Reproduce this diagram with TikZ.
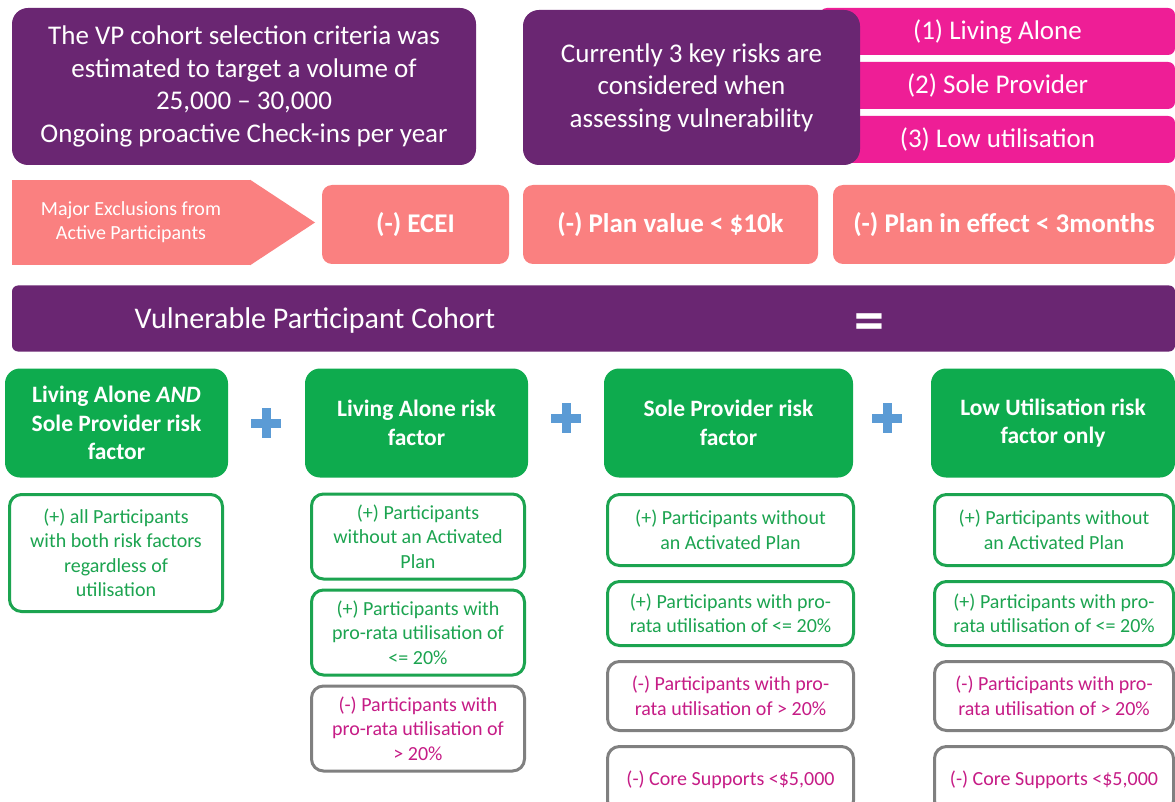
\documentclass[tikz,border=0pt]{standalone}
\usepackage{fontspec}
\setmainfont{Carlito}
\usetikzlibrary{positioning}
\definecolor{vppurple}{RGB}{106,38,114}
\definecolor{riskpink}{RGB}{238,30,150}
\definecolor{exclred}{RGB}{250,128,128}
\definecolor{headgreen}{RGB}{14,171,78}
\definecolor{linegreen}{RGB}{28,164,80}
\definecolor{plusblue}{RGB}{91,155,213}
\definecolor{minusgrey}{RGB}{128,128,128}
\definecolor{minustext}{RGB}{198,28,134}
\tikzset{purple node/.style={fill=vppurple,text=white,rounded corners=16pt,align=center,inner sep=0pt,font=\fontsize{27}{32.5}\selectfont},
  risk node/.style={fill=riskpink,text=white,rounded corners=7pt,minimum width=355pt,minimum height=47pt,inner sep=0pt,outer sep=0pt,font=\fontsize{27}{30}\selectfont},
  excl node/.style={fill=exclred,text=white,rounded corners=10pt,minimum height=79pt,inner sep=0pt,font=\bfseries\fontsize{27}{30}\selectfont},
  head node/.style={fill=headgreen,text=white,rounded corners=15pt,minimum height=109pt,align=center,inner sep=0pt,font=\bfseries\fontsize{23.5}{28.5}\selectfont},
  plus node/.style={minimum size=29pt,inner sep=0pt},
  plus bar/.style={draw=plusblue,line width=9pt},
  in node/.style={draw=linegreen,line width=3pt,fill=white,text=linegreen,rounded corners=12pt,align=center,inner sep=0pt,outer sep=0pt,font=\fontsize{20}{24.5}\selectfont},
  out node/.style={in node,draw=minusgrey,text=minustext},
}

\begin{document}
\begin{tikzpicture}[x=1pt,y=-1pt]
    \useasboundingbox[fill=white] (0,0) rectangle (1175,802);
    %% risks
    \node[risk node] (r1) at (997.5,31.5) {(1) Living Alone};
    \node[risk node] (r2) [below=7pt of r1] {(2) Sole Provider};
    \node[risk node] (r3) [below=7pt of r2] {(3) Low utilisation};
    \node[purple node,minimum width=464pt,minimum height=157pt] (vp) at (244,86.5) {The VP cohort selection criteria was\\estimated to target a volume of\\25,000 – 30,000\\Ongoing proactive Check-ins per year};
    \node[purple node,minimum width=337pt,minimum height=155pt] (risks) at (691.5,87.5) {Currently 3 key risks are\\considered when\\assessing vulnerability};

    %% exclusions
    \node[fill=exclred,text=white,minimum width=238pt,minimum height=85pt,inner sep=0pt,align=center,font=\fontsize{20}{24}\selectfont] (excl) at (131,222.5) {Major Exclusions from\\Active Participants};
    \coordinate (excl tip) at (315,222.5);
    \fill[exclred] (excl.north east) -- (excl tip) -- (excl.south east) -- cycle;
    \node[excl node,minimum width=187pt] (ecei) at (415.5,224.5) {(-) ECEI};
    \node[excl node,minimum width=295pt] (value) at (670.5,224.5) {(-) Plan value < \$10k};
    \node[excl node,minimum width=342pt] (effect) at (1004,224.5) {(-) Plan in effect < 3months};

    %% cohort
    \node[fill=vppurple,rounded corners=6pt,minimum width=1163pt,minimum height=66pt,inner sep=0pt] (cohort) at (593.5,318.5) {};
    \node[text=white,font=\fontsize{30}{32}\selectfont] (cohort label) at (315,321) {Vulnerable Participant Cohort};
    \node[text=white,font=\bfseries\fontsize{60}{60}\selectfont] (equals) at (869,327) {=};

    %% risk factors
    \node[head node,minimum width=223pt] (both) at (116.5,423) {Living Alone \textit{AND}\\Sole Provider risk\\factor};
    \node[head node,minimum width=223pt] (alone) at (416.5,423) {Living Alone risk\\factor};
    \node[head node,minimum width=249pt] (sole) at (728.5,423) {Sole Provider risk\\factor};
    \node[head node,minimum width=244pt] (low) at (1053,423) {Low Utilisation risk\\factor only};
    \node[plus node] (p1) at (266,423) {};
    \node[plus node] (p2) at (566,418) {};
    \node[plus node] (p3) at (887,418) {};
    \foreach \p in {p1,p2,p3} {
        \draw[plus bar] (\p.west) -- (\p.east);
        \draw[plus bar] (\p.north) -- (\p.south);
    }

    \node[in node,minimum width=213pt,minimum height=117pt] (both in) at (116,553) {(+) all Participants\\with both risk factors\\regardless of\\utilisation};

    \node[in node,minimum width=213pt,minimum height=85pt] (alone in1) at (418,536.5) {(+) Participants\\without an Activated\\Plan};
    \node[in node,minimum width=213pt,minimum height=85pt] (alone in2) [below=11pt of alone in1] {(+) Participants with\\pro-rata utilisation of\\<= 20\%};
    \node[out node,minimum width=213pt,minimum height=85pt] (alone out) [below=11pt of alone in2] {(-) Participants with\\pro-rata utilisation of\\> 20\%};

    \node[in node,minimum width=246pt,minimum height=71pt] (sole in1) at (730.5,530) {(+) Participants without\\an Activated Plan};
    \node[in node,minimum width=246pt,minimum height=64pt] (sole in2) [below=16pt of sole in1] {(+) Participants with pro-\\rata utilisation of <= 20\%};
    \node[out node,minimum width=246pt,minimum height=69pt] (sole out1) [below=16pt of sole in2] {(-) Participants with pro-\\rata utilisation of > 20\%};
    \node[out node,minimum width=246pt,minimum height=66pt] (sole out2) [below=16pt of sole out1] {(-) Core Supports <\$5,000};

    \node[in node,minimum width=239pt,minimum height=71pt] (low in1) at (1054,530) {(+) Participants without\\an Activated Plan};
    \node[in node,minimum width=239pt,minimum height=64pt] (low in2) [below=16pt of low in1] {(+) Participants with pro-\\rata utilisation of <= 20\%};
    \node[out node,minimum width=239pt,minimum height=69pt] (low out1) [below=16pt of low in2] {(-) Participants with pro-\\rata utilisation of > 20\%};
    \node[out node,minimum width=239pt,minimum height=66pt] (low out2) [below=16pt of low out1] {(-) Core Supports <\$5,000};
\end{tikzpicture}
\end{document}
